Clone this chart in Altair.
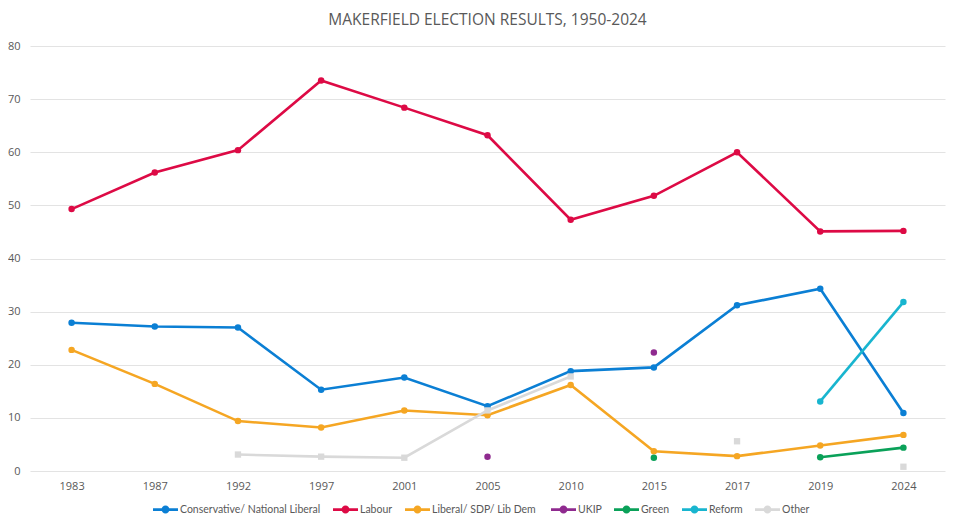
import altair as alt
import pandas as pd

years = ["1983", "1987", "1992", "1997", "2001", "2005", "2010", "2015", "2017", "2019", "2024"]
series_names = ["Conservative/ National Liberal", "Labour", "Liberal/ SDP/ Lib  Dem",
                "UKIP", "Green", "Reform", "Other"]
colors = ["#0b7fd4", "#dd0a45", "#f5a623", "#8f2a8f", "#0aa159", "#18b5cf", "#d9d9d9"]

con = [27.9, 27.2, 27.0, 15.3, 17.6, 12.2, 18.8, 19.5, 31.2, 34.3, 10.9]
lab = [49.3, 56.2, 60.4, 73.5, 68.4, 63.2, 47.3, 51.8, 60.0, 45.1, 45.2]
ld = [22.8, 16.4, 9.4, 8.2, 11.4, 10.5, 16.2, 3.7, 2.8, 4.8, 6.8]
ukip = [None, None, None, None, None, 2.7, None, 22.3, None, None, None]
green = [None, None, None, None, None, None, None, 2.5, None, 2.6, 4.4]
reform = [None, None, None, None, None, None, None, None, None, 13.1, 31.8]
other = [None, None, 3.1, 2.7, 2.5, 11.4, 17.8, None, 5.6, None, 0.8]

values = [con, lab, ld, ukip, green, reform, other]

rows = []
for order, (name, vals) in enumerate(zip(series_names, values)):
    seg = 0
    for yr, v in zip(years, vals):
        if v is None:
            seg += 1
            continue
        rows.append({"year": yr, "value": v, "series": name,
                     "seg": f"{name}-{seg}", "order": order})
df = pd.DataFrame(rows)

legend_path = ("M-1,-0.11H1V0.11H-1Z "
               "M0.32,0A0.32,0.32,0,1,1,-0.32,0A0.32,0.32,0,1,1,0.32,0Z")

color_scale = alt.Scale(domain=series_names, range=colors)
x_enc = alt.X("year:O", sort=years,
              scale=alt.Scale(type="point", padding=0.5),
              axis=alt.Axis(title=None, labelAngle=0, ticks=False, domain=False,
                            grid=False, labelPadding=9))
y_enc = alt.Y("value:Q", scale=alt.Scale(domain=[0, 80], nice=False),
              axis=alt.Axis(title=None, ticks=False, domain=False,
                            values=[0, 10, 20, 30, 40, 50, 60, 70, 80],
                            labelOverlap=False,
                            labelPadding=10, gridColor="#e3e3e3"))

legend = alt.Legend(title=None, orient="none", direction="horizontal",
                    legendX=123, legendY=451,
                    symbolType=legend_path, symbolSize=625,
                    symbolStrokeWidth=0, symbolOpacity=1,
                    labelFont="Lato", labelFontSize=10.5, labelColor="#595959",
                    columnPadding=12, labelOffset=2, labelLimit=300)

color_enc = alt.Color("series:N", scale=color_scale, legend=legend)

base = alt.Chart(df)

lines = base.mark_line(strokeWidth=2.6).encode(
    x=x_enc,
    y=y_enc,
    color=color_enc,
    detail="seg:N",
    order=alt.Order("order:Q"),
)

points = base.transform_filter(alt.datum.series != "Other").mark_circle(
    size=42, opacity=1).encode(
    x=x_enc,
    y=y_enc,
    color=color_enc,
)

squares = base.transform_filter(alt.datum.series == "Other").mark_square(
    size=40, opacity=1).encode(
    x=x_enc,
    y=y_enc,
    color=color_enc,
)

chart = alt.layer(lines, points, squares).properties(
    width=915,
    height=425,
    autosize=alt.AutoSizeParams(type="none"),
    padding={"left": 22, "top": 38, "right": 7, "bottom": 50},
    title=alt.Title("MAKERFIELD ELECTION RESULTS, 1950-2024", fontSize=15.5,
                    font="Open Sans", fontWeight="normal", color="#595959",
                    anchor="middle", offset=12),
).configure_view(stroke=None).configure_axis(
    labelFont="Open Sans", labelFontSize=11, labelColor="#595959"
)

chart.save("out.html", embed_options={"renderer": "svg", "actions": False})
